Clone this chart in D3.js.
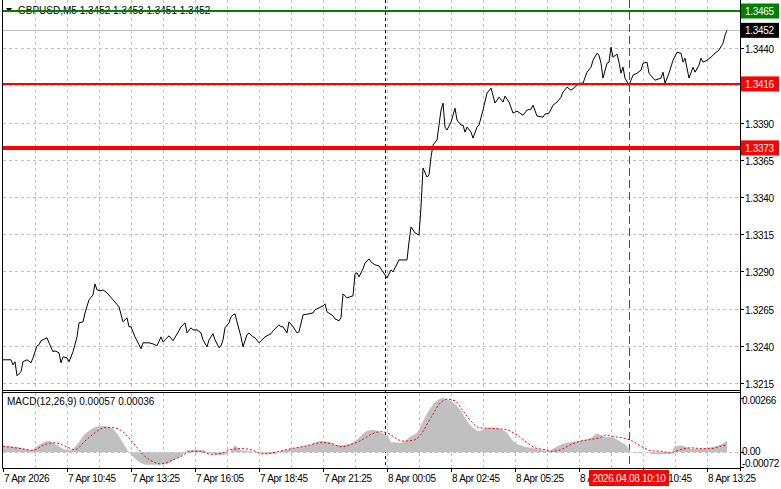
<!DOCTYPE html>
<html>
<head>
<meta charset="utf-8">
<script src="https://cdn.jsdelivr.net/npm/d3@7"></script>
<style>
  body { margin: 0; background: #fff; }
  text { font-family: "Liberation Sans", Arial, sans-serif; font-size: 10px; }
  .axis-label { letter-spacing: -0.3px; }
</style>
</head>
<body>
<div id="chart"></div>
<script>
// GBPUSD M5 close prices, [bar index, close]
const priceSeries = [
  [0,1.32306],[4,1.32306],[5,1.32272],[6,1.32293],[7,1.32199],[9,1.32226],[10,1.32293],[12,1.32306],
  [14,1.32286],[15,1.32319],[17,1.32400],[18,1.32407],[19,1.32434],[20,1.32440],[22,1.32454],[23,1.32420],
  [25,1.32360],[26,1.32366],[28,1.32353],[29,1.32286],[30,1.32326],[32,1.32319],[33,1.32293],[35,1.32360],
  [37,1.32460],[38,1.32554],[40,1.32561],[41,1.32621],[43,1.32709],[45,1.32742],[46,1.32816],[47,1.32776],
  [49,1.32769],[50,1.32776],[52,1.32756],[55,1.32709],[58,1.32662],[60,1.32561],[62,1.32588],[63,1.32528],
  [64,1.32528],[66,1.32460],[68,1.32407],[69,1.32380],[70,1.32420],[73,1.32420],[75,1.32413],[77,1.32400],
  [79,1.32460],[80,1.32427],[83,1.32467],[85,1.32434],[88,1.32501],[89,1.32528],[91,1.32554],[92,1.32487],
  [94,1.32521],[95,1.32507],[97,1.32507],[99,1.32487],[100,1.32440],[102,1.32393],[103,1.32440],[105,1.32481],
  [106,1.32440],[108,1.32387],[109,1.32400],[110,1.32440],[111,1.32521],[113,1.32554],[114,1.32595],[115,1.32608],
  [116,1.32615],[117,1.32561],[119,1.32460],[120,1.32393],[122,1.32474],[123,1.32487],[125,1.32460],[126,1.32454],
  [128,1.32420],[131,1.32460],[134,1.32481],[135,1.32501],[138,1.32541],[139,1.32528],[140,1.32528],[142,1.32487],
  [143,1.32561],[145,1.32528],[147,1.32487],[148,1.32494],[150,1.32608],[153,1.32615],[155,1.32621],[156,1.32642],
  [158,1.32655],[160,1.32668],[161,1.32682],[162,1.32628],[165,1.32601],[166,1.32581],[168,1.32568],[169,1.32588],
  [170,1.32749],[172,1.32722],[175,1.32736],[176,1.32883],[177,1.32890],[178,1.32863],[180,1.32917],[181,1.32957],
  [183,1.32984],[184,1.32964],[186,1.32944],[188,1.32937],[190,1.32897],[192,1.32856],[194,1.32910],[195,1.32897],
  [198,1.32977],[202,1.32977],[203,1.33098],[204,1.33199],[206,1.33158],[208,1.33145],[209,1.33333],[210,1.33595],
  [212,1.33534],[213,1.33548],[214,1.33668],[215,1.33749],[217,1.33783],[218,1.33883],[219,1.33984],[220,1.34031],
  [221,1.33870],[222,1.33850],[224,1.33903],[226,1.33997],[227,1.33917],[229,1.33883],[230,1.33883],[231,1.33836],
  [232,1.33870],[234,1.33836],[235,1.33796],[237,1.33870],[238,1.33883],[240,1.33984],[242,1.34098],[244,1.34132],
  [246,1.34031],[247,1.34051],[248,1.34071],[250,1.34038],[251,1.34078],[253,1.34038],[255,1.33964],[257,1.33977],
  [260,1.33950],[262,1.33984],[264,1.33991],[265,1.34017],[267,1.33944],[270,1.33937],[271,1.33957],[273,1.33964],
  [275,1.34017],[277,1.34038],[279,1.34071],[280,1.34105],[282,1.34138],[284,1.34118],[286,1.34138],[288,1.34165],
  [290,1.34165],[292,1.34239],[294,1.34272],[295,1.34319],[297,1.34366],[298,1.34353],[299,1.34299],[300,1.34199],
  [302,1.34299],[303,1.34306],[304,1.34407],[305,1.34340],[307,1.34360],[308,1.34306],[309,1.34232],[310,1.34272],
  [311,1.34199],[313,1.34152],[314,1.34185],[315,1.34219],[317,1.34232],[319,1.34252],[320,1.34299],[322,1.34306],
  [323,1.34232],[325,1.34199],[326,1.34185],[329,1.34199],[330,1.34239],[331,1.34165],[333,1.34232],[335,1.34319],
  [337,1.34373],[339,1.34366],[340,1.34306],[341,1.34333],[343,1.34199],[345,1.34272],[346,1.34239],[348,1.34286],
  [349,1.34333],[350,1.34306],[352,1.34319],[354,1.34340],[356,1.34366],[358,1.34387],[360,1.34434],[361,1.34487],
  [362,1.34520]
];

// MACD(12,26,9) histogram, [bar index, value]
const macdHist = [
  [0,0.0003],[4,0.0003],[9,0.00022],[14,0.0001],[17,0.0003],[20,0.00047],[23,0.00055],[26,0.00042],[30,0.00018],
  [34,0.0001],[37,0.00038],[40,0.00079],[44,0.00112],[47,0.00126],[50,0.00129],[54,0.00121],[57,0.00091],[60,0.00047],
  [63,0],[65,-0.0002],[69,-0.00052],[72,-0.00061],[77,-0.00061],[82,-0.00057],[85,-0.00041],[90,-0.00011],[92,0.0001],
  [97,0.00013],[100,0.0001],[104,-0.00005],[109,-0.00015],[114,0.00005],[116,0.00033],[119,0.0001],[124,0.00005],
  [129,-0.00005],[134,-0.0001],[139,0.00005],[144,0.00018],[149,0.00027],[154,0.00038],[159,0.00055],[163,0.00052],
  [167,0.00035],[172,0.00038],[177,0.00063],[182,0.00104],[185,0.00109],[189,0.00096],[193,0.00071],[194,0.00051],
  [199,0.00047],[204,0.00079],[207,0.00096],[210,0.00153],[214,0.0022],[217,0.00252],[220,0.00266],[222,0.0026],
  [225,0.00245],[229,0.00203],[232,0.00153],[235,0.00121],[238,0.00104],[241,0.00117],[245,0.00121],[249,0.00112],
  [252,0.00096],[255,0.00055],[260,0.0003],[264,0.00022],[269,0.00013],[273,0.00008],[275,0.00018],[279,0.00038],
  [284,0.00051],[289,0.00058],[294,0.00071],[297,0.00091],[300,0.00079],[305,0.00071],[309,0.00051],[312,0.0003],
  [314,0.00003],[317,-0.00005],[320,0.00003],[325,-0.00008],[330,-0.0001],[334,-0.00005],[336,0.0003],[339,0.00033],
  [344,0.00018],[349,0.00018],[354,0.00025],[359,0.00038],[362,0.00057]
];

// MACD signal line, [bar index, value]
const macdSignal = [
  [0,0.0003],[9,0.00018],[15,0.0001],[21,0.00038],[26,0.00047],[31,0.0003],[36,0.00013],[41,0.00055],[46,0.00096],
  [51,0.00121],[55,0.00121],[60,0.001],[65,0.00047],[70,-0.00011],[74,-0.00041],[79,-0.00057],[84,-0.00041],
  [89,-0.0002],[94,0.00005],[99,0.00005],[104,-0.0001],[109,-0.00005],[114,0.00013],[119,0.00018],[124,0.00013],
  [130,-0.00008],[136,0],[144,0.00018],[151,0.0003],[159,0.00047],[164,0.00043],[169,0.00027],[174,0.00038],
  [179,0.00058],[184,0.00088],[189,0.00101],[193,0.00091],[196,0.00071],[200,0.00055],[205,0.00058],[209,0.00088],
  [214,0.00171],[219,0.00245],[222,0.0026],[226,0.00252],[230,0.00203],[234,0.00153],[238,0.00121],[244,0.00117],
  [251,0.00112],[256,0.00091],[261,0.00055],[266,0.00022],[271,0.00013],[274,0.00005],[279,0.00013],[284,0.00038],
  [289,0.00055],[294,0.00063],[299,0.00074],[301,0.00084],[306,0.00076],[311,0.00068],[314,0.00058],[319,0.0003],
  [324,0.00008],[329,0.00005],[334,-0.00003],[337,0.00008],[344,0.00022],[349,0.00018],[354,0.00018],[359,0.0003],
  [362,0.00036]
];

const priceTicks = [1.3215, 1.3240, 1.3265, 1.3290, 1.3315, 1.3340, 1.3365, 1.3390, 1.3415, 1.3440, 1.3465];
const timeLabels = [
  [0, "7 Apr 2026"], [32, "7 Apr 10:45"], [64, "7 Apr 13:25"], [96, "7 Apr 16:05"],
  [128, "7 Apr 18:45"], [160, "7 Apr 21:25"], [192, "8 Apr 00:05"], [224, "8 Apr 02:45"],
  [256, "8 Apr 05:25"], [288, "8 Apr 08:05"], [320, "8 Apr 10:45"], [352, "8 Apr 13:25"]
];
const levelPrices = [1.3465, 1.3416, 1.3373];
const levelColors = ["#008000", "#ff0000", "#ff0000"];
const levelWidths = [2, 2, 4];
const bidPrice = 1.3452;
const daySeparatorBar = 191;
const cursorBar = 313;
const cursorLabel = "2026.04.08 10:10";
const macdMax = 0.00266, macdMin = -0.00072;
const macdTicks = [[macdMax, "0.00266"], [0, "0.00"], [macdMin, "-0.00072"]];
const titleText = "GBPUSD,M5  1.3452 1.3453 1.3451 1.3452";
const macdText = "MACD(12,26,9) 0.00057 0.00036";

const W = 781, H = 489;
const left = 3, right = 740;
const mainTop = 0, mainBottom = 390;
const subTop = 393, subBottom = 468;

const svg = d3.select("#chart").append("svg").attr("width", W).attr("height", H);

const x = d3.scaleLinear().domain([0, 368]).range([left, left + 736]);
const y = d3.scaleLinear().domain([1.3215, 1.3465]).range([383, 11]);
const ym = d3.scaleLinear().domain([macdMin, macdMax]).range([467, 398]);

const grid = svg.append("g").attr("stroke", "#c0c0c0").attr("stroke-dasharray", "3,3");

// vertical grid, every 16 bars
d3.range(16, 368, 16).forEach(b => {
  grid.append("line").attr("x1", x(b) + 0.5).attr("x2", x(b) + 0.5).attr("y1", mainTop).attr("y2", mainBottom);
  grid.append("line").attr("x1", x(b) + 0.5).attr("x2", x(b) + 0.5).attr("y1", subTop).attr("y2", subBottom);
});
// horizontal grid
priceTicks.forEach(p => {
  grid.append("line").attr("x1", left).attr("x2", right).attr("y1", Math.round(y(p)) + 0.5).attr("y2", Math.round(y(p)) + 0.5);
});
grid.append("line").attr("x1", left).attr("x2", right).attr("y1", Math.round(ym(0)) + 0.5).attr("y2", Math.round(ym(0)) + 0.5);

// bid line
svg.append("line").attr("x1", left).attr("x2", right)
  .attr("y1", Math.round(y(bidPrice)) + 0.5).attr("y2", Math.round(y(bidPrice)) + 0.5)
  .attr("stroke", "#c0c0c0");

// day separator & cursor line
svg.append("line").attr("x1", x(daySeparatorBar) + 0.5).attr("x2", x(daySeparatorBar) + 0.5)
  .attr("y1", mainTop).attr("y2", subBottom).attr("stroke", "#000").attr("stroke-dasharray", "3,3");
svg.append("line").attr("x1", x(cursorBar) + 0.5).attr("x2", x(cursorBar) + 0.5)
  .attr("y1", mainTop).attr("y2", subBottom).attr("stroke", "#ff0000").attr("stroke-dasharray", "8,4");

// MACD histogram
const histArea = d3.area().x(d => x(d[0])).y0(ym(0)).y1(d => ym(d[1])).curve(d3.curveMonotoneX);
svg.append("path").datum(macdHist).attr("d", histArea).attr("fill", "#c0c0c0");

// MACD signal
const sigLine = d3.line().x(d => x(d[0])).y(d => ym(d[1])).curve(d3.curveMonotoneX);
svg.append("path").datum(macdSignal).attr("d", sigLine).attr("fill", "none")
  .attr("stroke", "#ff0000").attr("stroke-dasharray", "2,2");

// title (drawn under level lines)
svg.append("path").attr("d", "M6,8 L12,8 L9,12 Z").attr("fill", "#000");
svg.append("text").attr("x", 18).attr("y", 14).text(titleText);

// price line
const priceLine = d3.line().x(d => x(d[0])).y(d => y(d[1]));
svg.append("path").datum(priceSeries).attr("d", priceLine).attr("fill", "none")
  .attr("stroke", "#000").attr("stroke-width", 1);

// level lines
levelPrices.forEach((p, i) => {
  svg.append("line").attr("x1", left).attr("x2", right).attr("y1", y(p)).attr("y2", y(p))
    .attr("stroke", levelColors[i]).attr("stroke-width", levelWidths[i]);
});

// panel borders
const border = svg.append("g").attr("stroke", "#000").attr("fill", "none");
border.append("line").attr("x1", left - 0.5).attr("x2", left - 0.5).attr("y1", 0).attr("y2", subBottom + 0.5);
border.append("line").attr("x1", right + 0.5).attr("x2", right + 0.5).attr("y1", 0).attr("y2", subBottom + 3);
border.append("line").attr("x1", left - 0.5).attr("x2", right + 0.5).attr("y1", mainBottom + 0.5).attr("y2", mainBottom + 0.5);
border.append("line").attr("x1", left - 0.5).attr("x2", right + 0.5).attr("y1", subTop - 0.5).attr("y2", subTop - 0.5);
border.append("line").attr("x1", left - 0.5).attr("x2", right + 0.5).attr("y1", subBottom + 0.5).attr("y2", subBottom + 0.5);

// price axis: labels hidden behind value boxes are not drawn
const boxPrices = levelPrices.concat([bidPrice]);
priceTicks.forEach(p => {
  const yy = Math.round(y(p)) + 0.5;
  svg.append("line").attr("x1", right).attr("x2", right + 4).attr("y1", yy).attr("y2", yy).attr("stroke", "#000");
  const covered = boxPrices.some(b => Math.abs(y(b) - y(p)) < 10);
  if (!covered) {
    svg.append("text").attr("class", "axis-label").attr("x", 745).attr("y", yy + 4).text(p.toFixed(4));
  }
});

// value boxes on price axis
function priceBox(p, fill) {
  const yy = y(p);
  svg.append("rect").attr("x", 741).attr("y", yy - 7.5).attr("width", 38).attr("height", 15).attr("fill", fill);
  svg.append("text").attr("class", "axis-label").attr("x", 745).attr("y", yy + 4).attr("fill", "#fff").text(p.toFixed(4));
}
levelPrices.forEach((p, i) => priceBox(p, levelColors[i]));
priceBox(bidPrice, "#000");

// MACD axis
const macdLabelY = [404, 455, 467];
macdTicks.forEach((t, i) => {
  svg.append("line").attr("x1", right).attr("x2", right + 4)
    .attr("y1", Math.round(ym(t[0])) + 0.5).attr("y2", Math.round(ym(t[0])) + 0.5).attr("stroke", "#000");
  svg.append("text").attr("class", "axis-label").attr("x", 742).attr("y", macdLabelY[i]).text(t[1]);
});
svg.append("text").attr("x", 7).attr("y", 405).text(macdText);

// time axis
timeLabels.forEach(t => {
  svg.append("line").attr("x1", x(t[0]) + 0.5).attr("x2", x(t[0]) + 0.5)
    .attr("y1", subBottom).attr("y2", subBottom + 4).attr("stroke", "#000");
  svg.append("text").attr("class", "axis-label").attr("x", x(t[0]) + 1).attr("y", 482).text(t[1]);
});

// cursor time label
const cx = x(cursorBar);
svg.append("rect").attr("x", cx - 40).attr("y", 470).attr("width", 80).attr("height", 16).attr("fill", "#ff0000");
svg.append("text").attr("class", "axis-label").attr("x", cx).attr("y", 482).attr("text-anchor", "middle").attr("fill", "#fff").text(cursorLabel);
</script>
</body>
</html>
